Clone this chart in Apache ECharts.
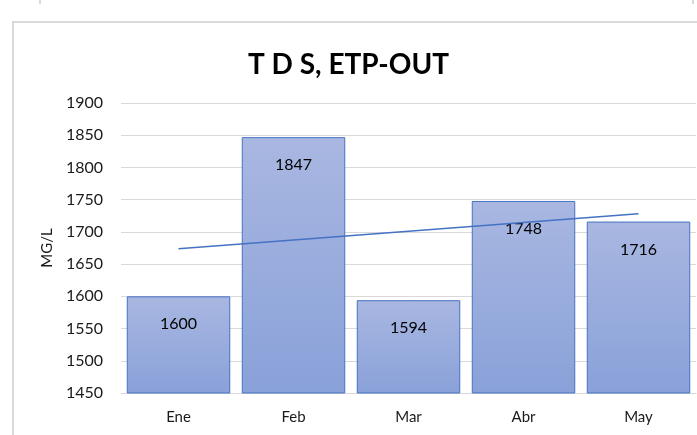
<!DOCTYPE html>
<html>
<head>
<meta charset="utf-8">
<style>
    html, body { margin: 0; padding: 0; background: #fff; overflow: hidden; }
    #chart { width: 697px; height: 435px; }
</style>
</head>
<body>
<div id="chart"></div>
<script src="https://cdn.jsdelivr.net/npm/echarts@6/dist/echarts.min.js"></script>
<script>
    // datos
    var meses = ['Ene', 'Feb', 'Mar', 'Abr', 'May'];
    var tds = [1600, 1847, 1594, 1748, 1716];
    // linea de tendencia: solo extremos, se unen con connectNulls
    var tendencia = [1674, null, null, null, 1728];

    var fuente = 'Lato, "Noto Sans", sans-serif';

    var myChart = echarts.init(document.getElementById('chart'));
    var option = {
        animation: false,
        title: {
            text: 'T D S, ETP-OUT',
            left: 'center',
            top: 46,
            textStyle: { fontFamily: fuente, fontSize: 28, fontWeight: 'bold', color: '#000' }
        },
        graphic: [
            { type: 'rect', shape: { x: 13, y: 22, width: 720, height: 440 },
              style: { fill: 'none', stroke: '#d9d9d9', lineWidth: 2 } },
            { type: 'line', shape: { x1: 40, y1: 0, x2: 40, y2: 4 },
              style: { stroke: '#d9d9d9', lineWidth: 2 } },
            { type: 'line', shape: { x1: 693, y1: 0, x2: 693, y2: 4 },
              style: { stroke: '#d9d9d9', lineWidth: 2 } }
        ],
        grid: { left: 121, right: 1, top: 103, bottom: 42 },
        xAxis: {
            type: 'category',
            data: meses,
            axisLine: { lineStyle: { color: '#d9d9d9', width: 1 } },
            axisTick: { show: false },
            axisLabel: { fontFamily: fuente, fontSize: 15, color: '#1a1a1a', margin: 17 }
        },
        yAxis: {
            type: 'value',
            min: 1450,
            max: 1900,
            interval: 50,
            name: 'MG/L',
            nameLocation: 'middle',
            nameGap: 64,
            nameTextStyle: { fontFamily: fuente, fontSize: 15, color: '#1a1a1a' },
            axisLine: { show: false },
            axisTick: { show: false },
            axisLabel: {
                fontFamily: fuente, fontSize: 16, color: '#1a1a1a', margin: 18,
                formatter: function (v) { return String(v); }
            },
            splitLine: { lineStyle: { color: '#d9d9d9', width: 1 } }
        },
        series: [
            {
                type: 'bar',
                data: tds,
                barCategoryGap: '10%',
                itemStyle: {
                    color: new echarts.graphic.LinearGradient(0, 0, 0, 1, [
                        { offset: 0, color: '#a9b7e1' },
                        { offset: 1, color: '#89a1d9' }
                    ]),
                    borderColor: '#4472c4',
                    borderWidth: 1
                },
                label: {
                    show: true,
                    position: 'insideTop',
                    distance: 20,
                    fontFamily: fuente,
                    fontSize: 16,
                    color: '#000'
                }
            },
            {
                type: 'line',
                data: tendencia,
                connectNulls: true,
                symbol: 'none',
                lineStyle: { color: '#4472c4', width: 1.5 },
                z: 5
            }
        ]
    };
    myChart.setOption(option);
</script>
</body>
</html>
